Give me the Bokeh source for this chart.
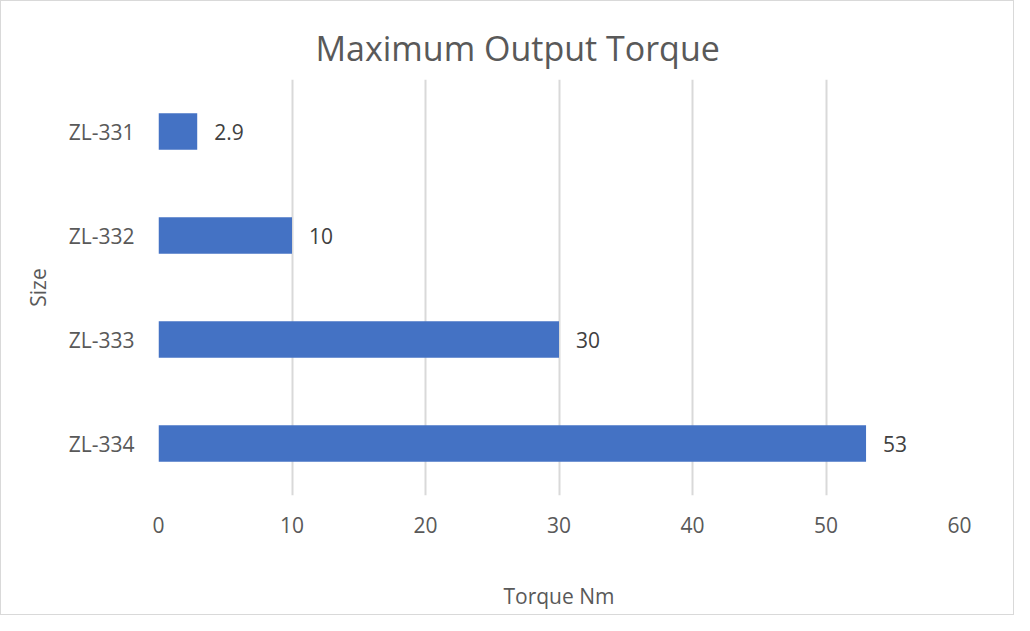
from bokeh.plotting import figure
from bokeh.models import ColumnDataSource, FactorRange, Range1d, LabelSet, LinearAxis, FixedTicker
from bokeh.core.properties import value
from bokeh.embed import file_html
from bokeh.resources import INLINE

sizes = ["ZL-331", "ZL-332", "ZL-333", "ZL-334"]
torque = [2.9, 10, 30, 53]
labels = ["2.9", "10", "30", "53"]
x_ticks = [0, 10, 20, 30, 40, 50, 60]

FONT = "Open Sans"
TXT = "#595959"

src = ColumnDataSource(dict(size=sizes, torque=torque, label=labels))

p = figure(width=1014, height=615, output_backend="svg", toolbar_location=None,
           y_range=FactorRange(factors=list(reversed(sizes)), range_padding=0),
           x_range=Range1d(0, 60),
           min_border_left=157, min_border_right=56, min_border_top=78, min_border_bottom=121)
p.styles = {"border": "1px solid #d9d9d9"}
p.outline_line_color = None
p.background_fill_color = "white"
p.border_fill_color = "white"

p.hbar(y="size", right="torque", left=0, height=0.35, source=src,
       fill_color="#4472C4", line_color=None)

p.add_layout(LabelSet(x="torque", y="size", text="label", source=src, x_offset=17,
                      text_align="left", text_baseline="middle", text_font_size="21px",
                      text_font=value(FONT), text_color="#404040"))

p.xaxis.ticker = x_ticks
for ax in (p.xaxis[0], p.yaxis[0]):
    ax.axis_line_color = None
    ax.major_tick_line_color = None
    ax.minor_tick_line_color = None
    ax.major_tick_out = 0
    ax.minor_tick_out = 0
    ax.major_label_text_font = FONT
    ax.major_label_text_font_size = "21px"
    ax.major_label_text_color = TXT
    ax.axis_label_text_font = FONT
    ax.axis_label_text_font_size = "21px"
    ax.axis_label_text_font_style = "normal"
    ax.axis_label_text_color = TXT
p.xaxis.major_label_standoff = 21
p.yaxis.major_label_standoff = 24

p.yaxis.axis_label = "Size"
p.yaxis.axis_label_standoff = 14

p.xgrid.grid_line_color = "#d9d9d9"
p.xgrid.grid_line_width = 2
p.ygrid.grid_line_color = None

# second, tick-less axis that only carries the x title, centred a bit left of the plot
title_axis = LinearAxis(ticker=FixedTicker(ticks=[]), bounds=(0, 55),
                        axis_line_color=None, major_tick_line_color=None,
                        minor_tick_line_color=None, major_tick_out=0, major_tick_in=0,
                        minor_tick_out=0, major_label_standoff=0,
                        axis_label="Torque Nm", axis_label_standoff=46,
                        axis_label_text_font=FONT, axis_label_text_font_size="21px",
                        axis_label_text_font_style="normal", axis_label_text_color=TXT)
p.add_layout(title_axis, "below")

p.title.text = "Maximum Output Torque"
p.title.align = "left"
p.title.offset = 157
p.title.standoff = 18
p.title.text_font = FONT
p.title.text_font_size = "34px"
p.title.text_font_style = "normal"
p.title.text_color = TXT

open("out.html", "w").write(file_html(p, INLINE))
